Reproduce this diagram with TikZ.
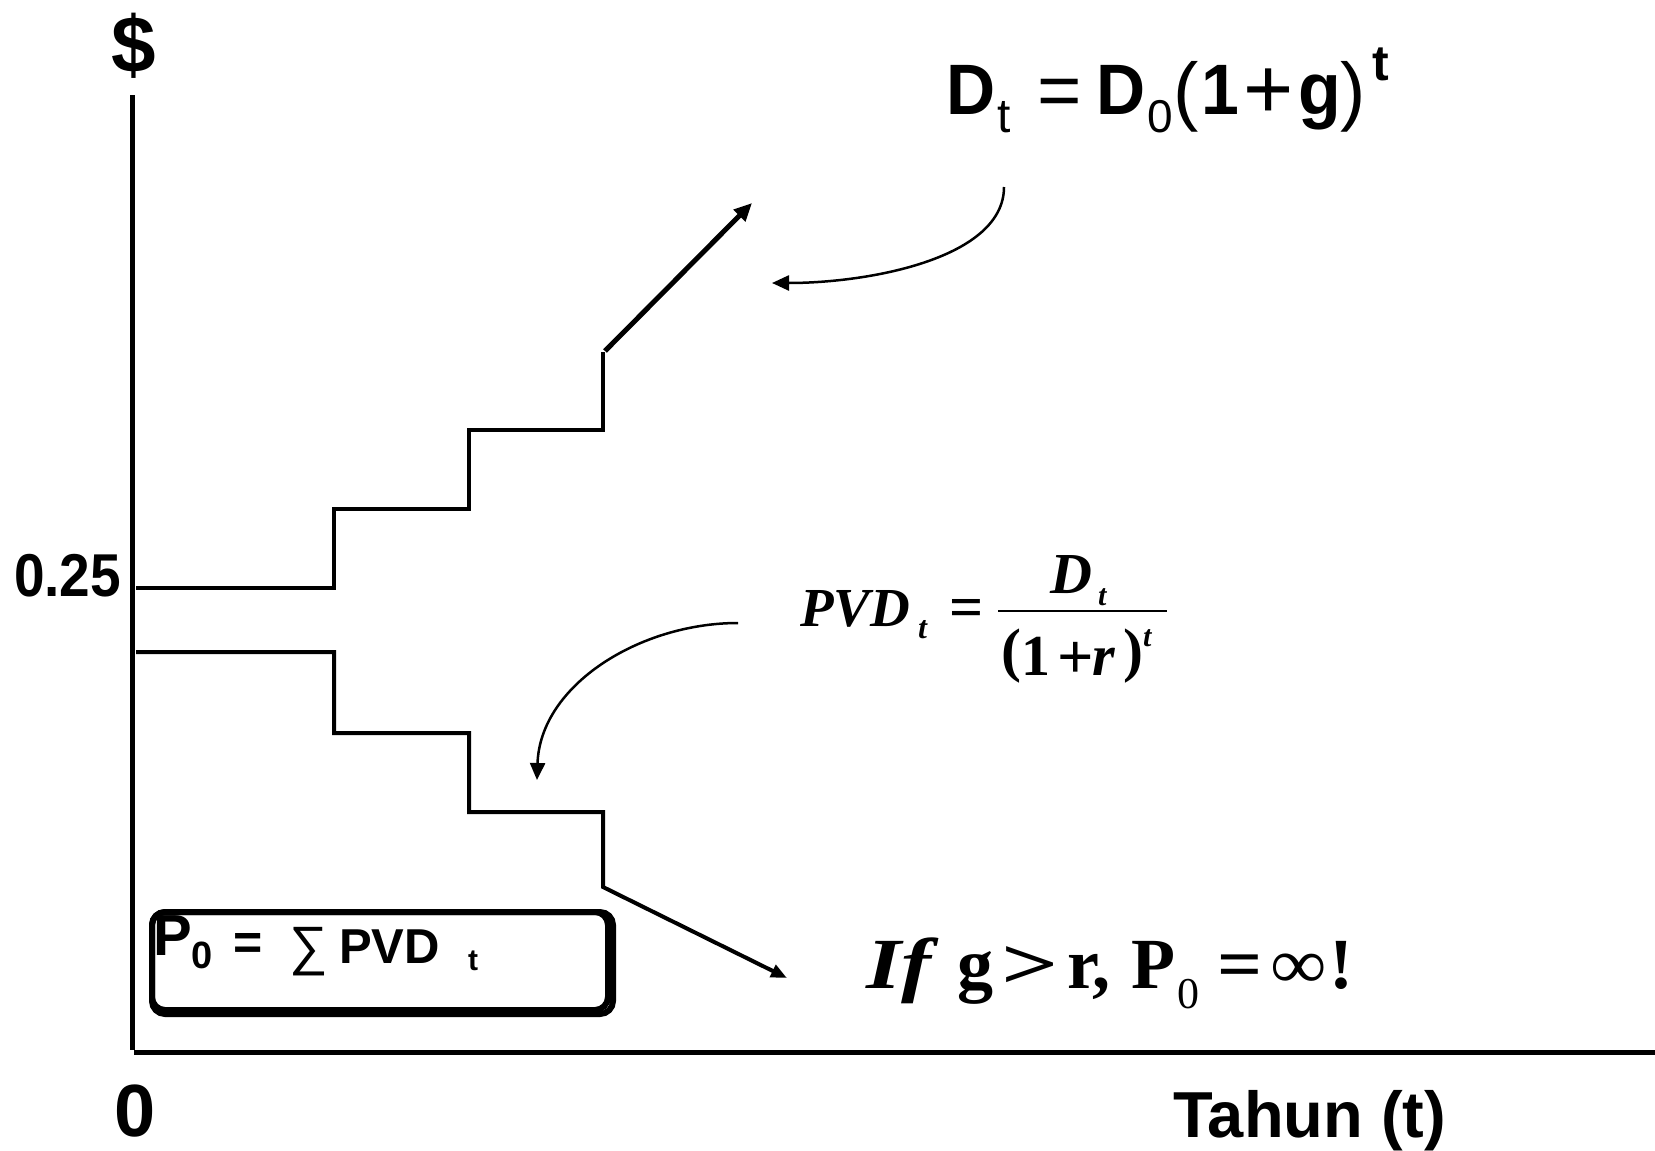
\documentclass[tikz,border=0pt]{standalone}
\usepackage{graphicx}
\usepackage{fontspec}
\setmainfont{Liberation Sans}
\newfontfamily\tnr{Liberation Serif}
\usetikzlibrary{arrows.meta}
\newcommand\setfs[1]{\fontsize{#1}{#1}\selectfont}
\begin{document}
\begin{tikzpicture}[x=1pt,y=-1pt,
  pc/.style={anchor=base west,inner sep=0pt,outer sep=0pt},
  axisline/.style={line width=5pt},
  stair/.style={line width=4pt,line join=miter},
  thinarr/.style={line width=2.5pt,-{Triangle[length=17pt,width=15pt]}},
  thickarr/.style={line width=5pt,-{Triangle[length=18pt,width=16pt]}},
  boxline/.style={line width=6pt,rounded corners=13pt}]
\useasboundingbox (0,0) rectangle (1655,1151);
% axes
\coordinate (ytop) at (132,95);
\coordinate (ybot) at (132,1050);
\coordinate (xl) at (134,1052);
\coordinate (xr) at (1655,1052);
\draw[axisline] (ytop) -- (ybot);
\draw[axisline] (xl) -- (xr);
% upper staircase
\coordinate (ua) at (136,588);
\coordinate (ub) at (603,352);
\coordinate (uc) at (752,203);
\draw[stair] (ua) -- (334,588) -- (334,509) -- (469,509) -- (469,430) -- (603,430) -- (ub);
\draw[thickarr] (605,351) -- (uc);
% lower staircase
\coordinate (la) at (136,652);
\coordinate (lc) at (787,978);
\draw[stair,-{Triangle[length=16pt,width=13pt]}] (la) -- (334,652) -- (334,733) -- (469,733) -- (469,812) -- (603,812) -- (603,887) -- (lc);
% curved arrows
\coordinate (c1s) at (1004,187);
\coordinate (c1e) at (772,283);
\draw[thinarr] (c1s) .. controls (1004,258) and (870,283) .. (c1e);
\coordinate (c2s) at (738,623);
\coordinate (c2e) at (537,780);
\draw[thinarr] (c2s) .. controls (640,623) and (540,685) .. (c2e);
% box
\draw[boxline] (152,912) rectangle (608,1010);
\draw[boxline] (152,912) rectangle (613,1014);
% axis labels
\node[anchor=base,inner sep=0pt,font=\setfs{80}\bfseries] (dollar) at (134,72) {\$};
\node[pc,font=\setfs{55}\bfseries] (v025) at (14,596) {\scalebox{1}[1.1]{0.25}};
\node[anchor=base,inner sep=0pt,font=\setfs{74}\bfseries] (zero) at (135,1136) {0};
\node[pc,font=\setfs{65}\bfseries] (tahun) at (1173,1137) {Tahun (t)};
% top formula
\node[pc,font=\setfs{68}\bfseries] (dD) at (946,114) {\scalebox{1}[1.05]{D}};
\node[pc,font=\setfs{48}] (dt) at (997,132) {t};
\node[pc,font=\setfs{76}] (deq) at (1037,116) {=};
\node[pc,font=\setfs{68}\bfseries] (dD0) at (1096,114) {\scalebox{1}[1.05]{D}};
\node[pc,font=\setfs{46}] (d0) at (1147,132) {0};
\node[pc,font=\setfs{76}] (dlp) at (1173,116) {(};
\node[pc,font=\setfs{68}\bfseries] (d1) at (1201,114) {\scalebox{1}[1.05]{1}};
\node[pc,font=\setfs{86}] (dplus) at (1243,118) {+};
\node[pc,font=\setfs{70}\bfseries] (dg) at (1298,114) {\scalebox{1}[1.05]{g}};
\node[pc,font=\setfs{76}] (drp) at (1340,116) {)};
\node[pc,font=\setfs{50}\bfseries] (dsup) at (1372,80) {t};
% PVD formula
\node[pc,font=\tnr\setfs{55}\bfseries\itshape] (pvd) at (800,626) {PVD};
\node[pc,font=\tnr\setfs{32}\bfseries\itshape] (pvdt) at (918,638) {t};
\node[pc,font=\tnr\setfs{60}\bfseries] (peq) at (949,627) {=};
\coordinate (fl) at (998,611);
\coordinate (fr) at (1167,611);
\draw[line width=2pt] (fl) -- (fr);
\node[pc,font=\tnr\setfs{58}\bfseries\itshape] (pD) at (1050,593) {D};
\node[pc,font=\tnr\setfs{30}\bfseries\itshape] (pDt) at (1098,605) {t};
\node[pc,font=\tnr\setfs{60}\bfseries] (plp) at (1001,670) {(};
\node[pc,font=\tnr\setfs{58}\bfseries] (p1) at (1021,675) {1};
\node[pc,font=\tnr\setfs{64}\bfseries] (pplus) at (1057,678) {+};
\node[pc,font=\tnr\setfs{58}\bfseries\itshape] (pr) at (1092,675) {r};
\node[pc,font=\tnr\setfs{60}\bfseries] (prp) at (1123,670) {)};
\node[pc,font=\tnr\setfs{30}\bfseries\itshape] (pt) at (1143,646) {t};
% If formula
\node[pc,font=\tnr\setfs{72}\bfseries\itshape] (if) at (866,988) {\scalebox{1.25}[1]{If}};
\node[pc,font=\tnr\setfs{72}\bfseries] (ig) at (957,988) {g};
\node[pc,font=\tnr\setfs{72}\bfseries] (igt) at (1001,988) {\scalebox{1.4}[1]{>}};
\node[pc,font=\tnr\setfs{72}\bfseries] (ir) at (1067,988) {r,};
\node[pc,font=\tnr\setfs{72}\bfseries] (iP) at (1131,988) {P};
\node[pc,font=\tnr\setfs{44}] (i0) at (1177,1008) {0};
\node[pc,font=\tnr\setfs{72}\bfseries] (ieq) at (1217,988) {\scalebox{1.1}[1]{=}};
\node[pc,font=\tnr\setfs{72}] (iinf) at (1270,988) {\scalebox{1.1}[1]{∞}};
\node[pc,font=\tnr\setfs{72}\bfseries] (iex) at (1329,988) {!};
% box formula
\node[pc,font=\setfs{58}\bfseries] (bP) at (153,955) {P};
\node[pc,font=\setfs{38}\bfseries] (b0) at (191,968) {0};
\node[pc,font=\setfs{50}\bfseries] (beq) at (233,959) {=};
\node[pc,font=\setfs{54}] (bsum) at (289,964) {∑};
\node[pc,font=\setfs{49}\bfseries] (bpvd) at (339,963) {PVD};
\node[pc,font=\setfs{30}\bfseries] (bt) at (468,970) {t};
\end{tikzpicture}
\end{document}
